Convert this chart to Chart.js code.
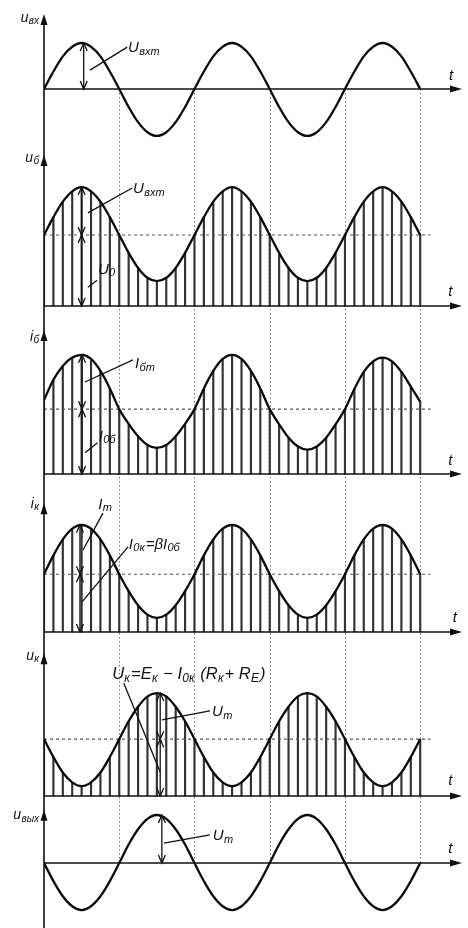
<!DOCTYPE html>
<html><head><meta charset="utf-8">
<script src="https://cdn.jsdelivr.net/npm/chart.js@4.4.1/dist/chart.umd.min.js"></script>
<style>html,body{margin:0;padding:0;background:#fff;}#wrap{width:468px;height:928px;}</style>
</head><body><div id="wrap"><canvas id="c" width="468" height="928"></canvas></div>
<script>
// phase (degrees) of each sample / hatch line
const phaseDeg = [0,22.5,45,67.5,90,112.5,135,157.5,180,202.5,225,247.5,270,292.5,315,337.5,360,382.5,405,427.5,450,472.5,495,517.5,540,562.5,585,607.5,630,652.5,675,697.5,720,742.5,765,787.5,810,832.5,855,877.5,900];
// u_вх (input voltage)
const uIn = [0,0.38,0.71,0.92,1.00,0.92,0.71,0.38,0,-0.39,-0.72,-0.94,-1.02,-0.94,-0.72,-0.39,0,0.38,0.71,0.92,1.00,0.92,0.71,0.38,0,-0.39,-0.72,-0.94,-1.02,-0.94,-0.72,-0.39,0,0.38,0.71,0.92,1.00,0.92,0.71,0.38,0];
// u_б (base voltage)
const uBase = [1.51,1.89,2.22,2.44,2.53,2.44,2.22,1.89,1.51,1.13,0.81,0.60,0.53,0.60,0.81,1.13,1.51,1.89,2.22,2.44,2.53,2.44,2.22,1.89,1.51,1.13,0.81,0.60,0.53,0.60,0.81,1.13,1.51,1.89,2.22,2.44,2.53,2.44,2.22,1.89,1.51];
// i_б (base current)
const iBase = [1.61,2.05,2.35,2.53,2.59,2.50,2.24,1.86,1.41,1.09,0.82,0.63,0.57,0.63,0.82,1.09,1.41,1.86,2.24,2.50,2.59,2.50,2.24,1.86,1.41,1.08,0.79,0.60,0.53,0.60,0.79,1.08,1.41,1.85,2.22,2.45,2.53,2.45,2.22,1.90,1.57];
// i_к (collector current)
const iColl = [1.23,1.63,1.97,2.20,2.28,2.20,1.97,1.63,1.23,0.87,0.57,0.37,0.30,0.37,0.57,0.87,1.23,1.63,1.97,2.20,2.28,2.20,1.97,1.63,1.23,0.87,0.57,0.37,0.30,0.37,0.57,0.87,1.23,1.63,1.97,2.20,2.28,2.20,1.97,1.63,1.23];
// u_к (collector voltage)
const uColl = [1.21,0.83,0.50,0.29,0.21,0.29,0.50,0.83,1.21,1.59,1.90,2.12,2.19,2.12,1.90,1.59,1.21,0.83,0.50,0.29,0.21,0.29,0.50,0.83,1.21,1.59,1.90,2.12,2.19,2.12,1.90,1.59,1.21,0.83,0.50,0.29,0.21,0.29,0.50,0.83,1.21];
// u_вых (output voltage)
const uOut = [0,-0.38,-0.70,-0.91,-0.99,-0.91,-0.70,-0.38,0,0.39,0.71,0.93,1.01,0.93,0.71,0.39,0,-0.38,-0.70,-0.91,-0.99,-0.91,-0.70,-0.38,0,0.39,0.71,0.93,1.01,0.93,0.71,0.39,0,-0.38,-0.70,-0.91,-0.99,-0.91,-0.70,-0.38,0];
// quiescent levels U0, I0б, I0к, Uк
const meanLevels = [1.51, 1.41, 1.23, 1.21];
// dotted guide lines (zero crossings)
const zeroCrossDeg = [180, 360, 540, 720, 900];
// axis names
const axisNames = [[['u',0],['вх',1]], [['u',0],['б',1]], [['i',0],['б',1]], [['i',0],['к',1]], [['u',0],['к',1]], [['u',0],['вых',1]]];

// ---- layout (not data) ----
const panels = [
  {id:'p1', values:uIn,   hatch:false, mean:null,          band:146, min:-1.239, max:1.935, tip:1.63, name:1.46, t:[969,0.20]},
  {id:'p2', values:uBase, hatch:true,  mean:meanLevels[0], band:172, min:-0.255, max:3.404, tip:3.21, name:3.07, t:[967,0.21]},
  {id:'p3', values:iBase, hatch:true,  mean:meanLevels[1], band:170, min:-0.304, max:3.391, tip:3.13, name:2.89, t:[967,0.20]},
  {id:'p4', values:iColl, hatch:true,  mean:meanLevels[2], band:154, min:-0.213, max:3.064, tip:2.74, name:2.64, t:[978,0.21]},
  {id:'p5', values:uColl, hatch:true,  mean:meanLevels[3], band:161, min:-0.149, max:3.277, tip:3.04, name:2.89, t:[967,0.23]},
  {id:'p6', values:uOut,  hatch:false, mean:null,          band:125, min:-1.368, max:1.263, tip:1.12, name:0.92, t:[967,0.21]}
];

const annotations = [
  {p:'p1', k:'dbl', x:95, a:1.0, b:0},
  {p:'p1', k:'line', x1:110, y1:0.41, x2:199, y2:0.91},
  {p:'p1', k:'text', x:201, y:0.80, s:15, segs:[['U',0],['вхm',1]]},

  {p:'p2', k:'dbl', x:90, a:2.53, b:1.51},
  {p:'p2', k:'dbl', x:90, a:0, b:1.51},
  {p:'p2', k:'line', x1:105, y1:1.98, x2:211, y2:2.51},
  {p:'p2', k:'text', x:213, y:2.40, s:15, segs:[['U',0],['вхm',1]]},
  {p:'p2', k:'line', x1:105, y1:0.40, x2:127, y2:0.55},
  {p:'p2', k:'text', x:129, y:0.68, s:15, segs:[['U',0],['0',1]]},

  {p:'p3', k:'dbl', x:91, a:2.59, b:1.41},
  {p:'p3', k:'dbl', x:91, a:0, b:1.41},
  {p:'p3', k:'line', x1:98, y1:2.0, x2:213, y2:2.48},
  {p:'p3', k:'text', x:218, y:2.30, s:15, segs:[['I',0],['бm',1]]},
  {p:'p3', k:'line', x1:98, y1:0.46, x2:128, y2:0.68},
  {p:'p3', k:'text', x:131, y:0.72, s:15, segs:[['I',0],['0б',1]]},

  {p:'p4', k:'dbl', x:86, a:2.28, b:1.23},
  {p:'p4', k:'dbl', x:86, a:0, b:1.23},
  {p:'p4', k:'line', x1:93, y1:1.74, x2:141, y2:2.53},
  {p:'p4', k:'text', x:130, y:2.62, s:15, segs:[['I',0],['m',1]]},
  {p:'p4', k:'line', x1:91, y1:0.64, x2:201, y2:1.81},
  {p:'p4', k:'text', x:203, y:1.77, s:15, segs:[['I',0],['0к',1],['=βI',0],['0б',1]]},

  {p:'p5', k:'dbl', x:278, a:2.19, b:1.21},
  {p:'p5', k:'dbl', x:278, a:0, b:1.21},
  {p:'p5', k:'text', x:163, y:2.49, s:16.5, segs:[['U',0],['к',1],['=E',0],['к',1],[' − I',0],['0к',1],[' (R',0],['к',1],['+ R',0],['Е',1],[')',0]]},
  {p:'p5', k:'line', x1:191, y1:2.40, x2:278, y2:0.51},
  {p:'p5', k:'line', x1:282, y1:1.62, x2:397, y2:1.81},
  {p:'p5', k:'text', x:402, y:1.70, s:15, segs:[['U',0],['m',1]]},

  {p:'p6', k:'dbl', x:282, a:1.01, b:0},
  {p:'p6', k:'line', x1:287, y1:0.42, x2:397, y2:0.59},
  {p:'p6', k:'text', x:404, y:0.48, s:15, segs:[['U',0],['m',1]]}
];

const FONT = '"Liberation Sans", Arial, sans-serif';
function segFont(size, sub) {
  return 'italic ' + (sub ? Math.round(size * 0.74) : size) + 'px ' + FONT;
}
function richWidth(ctx, segs, size) {
  let w = 0;
  for (const [s, sub] of segs) { ctx.font = segFont(size, sub); w += ctx.measureText(s).width + (sub ? 1 : 0.3); }
  return w;
}
function rich(ctx, x, y, segs, size) {
  let cx = x;
  for (const [s, sub] of segs) {
    ctx.font = segFont(size, sub);
    ctx.fillText(s, cx, sub ? y + size * 0.16 : y);
    cx += ctx.measureText(s).width + (sub ? 1 : 0.3);
  }
}

const datasets = [];
const scales = {
  x: {type:'linear', min:0, max:1000, offset:false, display:true,
      grid:{display:false}, ticks:{display:false}, border:{display:false},
      afterFit(s){ s.height = 0; }}
};
panels.forEach((p, i) => {
  scales[p.id] = {type:'linear', position:'left', stack:'v', stackWeight:p.band, weight:10 - i,
    min:p.min, max:p.max, display:true, grid:{display:false}, ticks:{display:false}, border:{display:false},
    afterFit(s){ s.width = 0; }};
  const pts = phaseDeg.map((x, j) => ({x, y:p.values[j]}));
  datasets.push({type:'line', yAxisID:p.id, data:pts, borderColor:'#0a0a0a', borderWidth:2.3,
    pointRadius:0, cubicInterpolationMode:'monotone', fill:false, order:0});
  if (p.hatch) {
    datasets.push({type:'bar', yAxisID:p.id, data:pts, backgroundColor:'#333', borderWidth:0,
      barThickness:1.5, grouped:false, order:2});
  }
  if (p.mean !== null) {
    datasets.push({type:'line', yAxisID:p.id, data:[{x:0,y:p.mean},{x:925,y:p.mean}], borderColor:'#555',
      borderWidth:1.1, borderDash:[3,3], pointRadius:0, fill:false, order:1});
  }
});

const deco = {
  id:'deco',
  beforeDatasetsDraw(chart) {
    const ctx = chart.ctx, X = chart.scales.x;
    const yTop = chart.scales.p1.getPixelForValue(0), yBot = chart.scales.p6.getPixelForValue(0);
    ctx.save();
    ctx.strokeStyle = '#777'; ctx.lineWidth = 1; ctx.setLineDash([1.5, 2.5]);
    zeroCrossDeg.forEach(d => {
      const x = Math.round(X.getPixelForValue(d)) + 0.5;
      ctx.beginPath(); ctx.moveTo(x, yTop); ctx.lineTo(x, yBot); ctx.stroke();
    });
    ctx.restore();
  },
  afterDatasetsDraw(chart) {
    const ctx = chart.ctx, X = chart.scales.x;
    const px = v => X.getPixelForValue(v);
    const x0 = px(0);
    ctx.save();
    ctx.strokeStyle = '#111'; ctx.fillStyle = '#111'; ctx.lineWidth = 1.6;
    // vertical axis
    const topY = chart.scales.p1.getPixelForValue(panels[0].tip);
    ctx.beginPath(); ctx.moveTo(x0, topY + 4); ctx.lineTo(x0, chart.height); ctx.stroke();
    panels.forEach((p, i) => {
      const S = chart.scales[p.id];
      const ty = S.getPixelForValue(p.tip);
      ctx.beginPath(); ctx.moveTo(x0, ty); ctx.lineTo(x0 - 3.5, ty + 11); ctx.lineTo(x0 + 3.5, ty + 11); ctx.closePath(); ctx.fill();
      // t axis
      const y0 = S.getPixelForValue(0), xe = px(1000);
      ctx.beginPath(); ctx.moveTo(x0, y0); ctx.lineTo(xe - 6, y0); ctx.stroke();
      ctx.beginPath(); ctx.moveTo(xe, y0); ctx.lineTo(xe - 12, y0 - 3.5); ctx.lineTo(xe - 12, y0 + 3.5); ctx.closePath(); ctx.fill();
      // axis name, right-aligned just left of the axis
      const w = richWidth(ctx, axisNames[i], 14);
      rich(ctx, x0 - 4 - w, S.getPixelForValue(p.name), axisNames[i], 14);
      ctx.font = 'italic 15px ' + FONT;
      ctx.fillText('t', px(p.t[0]), S.getPixelForValue(p.t[1]));
    });
    // annotations
    ctx.lineWidth = 1.3;
    annotations.forEach(a => {
      const S = chart.scales[a.p];
      if (a.k === 'dbl') {
        const x = px(a.x), ya = S.getPixelForValue(a.a), yb = S.getPixelForValue(a.b);
        ctx.beginPath(); ctx.moveTo(x, ya); ctx.lineTo(x, yb); ctx.stroke();
        [[ya, yb], [yb, ya]].forEach(([e, o]) => {
          const dir = o > e ? 1 : -1;
          ctx.beginPath(); ctx.moveTo(x - 3.5, e + dir * 8); ctx.lineTo(x, e); ctx.lineTo(x + 3.5, e + dir * 8); ctx.stroke();
        });
      } else if (a.k === 'line') {
        ctx.beginPath(); ctx.moveTo(px(a.x1), S.getPixelForValue(a.y1)); ctx.lineTo(px(a.x2), S.getPixelForValue(a.y2)); ctx.stroke();
      } else {
        rich(ctx, px(a.x), S.getPixelForValue(a.y), a.segs, a.s);
      }
    });
    ctx.restore();
  }
};

new Chart(document.getElementById('c'), {
  type:'line',
  data:{datasets},
  options:{
    responsive:false, animation:false, devicePixelRatio:1,
    layout:{padding:{left:44, right:6, top:0, bottom:0}},
    plugins:{legend:{display:false}, tooltip:{enabled:false}},
    scales
  },
  plugins:[deco]
});
</script>
</body></html>
